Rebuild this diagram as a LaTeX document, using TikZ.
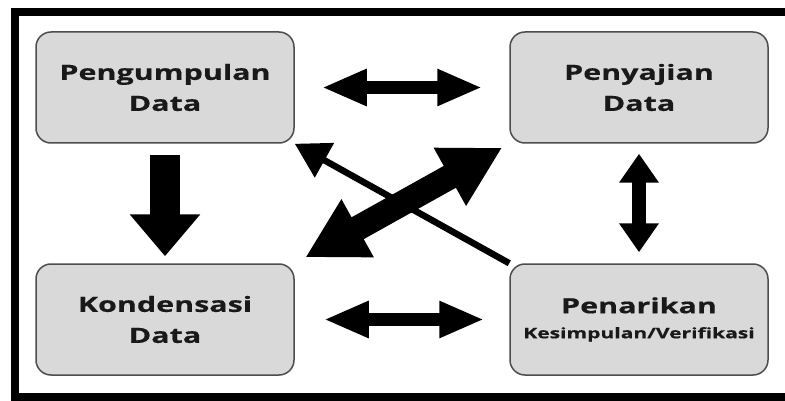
\documentclass[tikz,border=0pt]{standalone}
\usepackage{fontspec}
\newfontfamily\boxfont[FakeStretch=1.45,FakeBold=0.5]{Open Sans}
\usetikzlibrary{arrows.meta}
\definecolor{boxgray}{HTML}{D9D9D9}
\definecolor{boxline}{HTML}{4D4D4D}

\begin{document}
\begin{tikzpicture}[x=1pt,y=-1pt,
    hbar/.style={line width=12.5pt, {Triangle[length=45pt,width=34pt]}-{Triangle[length=45pt,width=34pt]}},
    downbar/.style={line width=30pt, -{Triangle[length=42pt,width=68pt]}},
    vbar/.style={line width=14pt, {Triangle[length=29pt,width=38pt]}-{Triangle[length=29pt,width=38pt]}},
    bigbar/.style={line width=25pt, {Triangle[length=60pt,width=62pt]}-{Triangle[length=60pt,width=62pt]}},
    thinbar/.style={line width=6.5pt, -{Triangle[length=34pt,width=38pt]}}]

        \useasboundingbox (0,0) rectangle (785,401);
        \clip (0,0) rectangle (785,401);
        \draw[line width=8pt] (14.5,12) rectangle (800,397);

        \begin{scope}[every node/.style={draw=boxline, fill=boxgray, line width=1.5pt, rounded corners=15pt,
            minimum width=258pt, minimum height=111pt, inner sep=0pt, align=center,
            text=black!90, font=\boxfont\bfseries\fontsize{21}{31}\selectfont}]
          \node (1) at (165,87.5)  {Pengumpulan\\Data};
          \node (2) at (639,87.5)  {Penyajian\\Data};
          \node (3) at (165,319.5) {Kondensasi\\Data};
          \node (4) at (639,319.5) {Penarikan\\[-6pt]{\fontsize{14.5}{18}\selectfont Kesimpulan/Verifikasi}};
        \end{scope}

        \begin{scope}[every edge/.style={draw}]
          \path (1) edge[hbar, shorten <=27pt, shorten >=27pt] (2);
          \path (3) edge[hbar, shorten <=29pt, shorten >=25pt] (4);
          \path (1) edge[downbar, shorten <=11pt, shorten >=7pt] (3);
          \path (2) edge[vbar, shorten <=10pt, shorten >=11pt] (4);
          \path (3.north east) edge[bigbar, shorten <=12pt, shorten >=8pt] (2.south west);
          \path (4.north west) edge[thinbar] (1.south east);
        \end{scope}

      \end{tikzpicture}
\end{document}
